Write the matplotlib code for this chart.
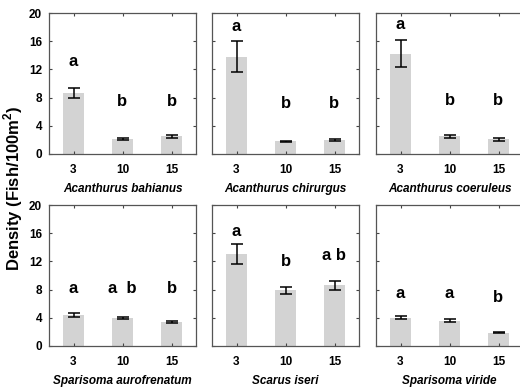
import matplotlib.pyplot as plt

plt.rcParams['font.family'] = ['Liberation Sans', 'DejaVu Sans']
plt.rcParams['font.weight'] = 'bold'
plt.rcParams['mathtext.fontset'] = 'custom'
plt.rcParams['mathtext.rm'] = 'Liberation Sans:bold'
plt.rcParams['mathtext.bf'] = 'Liberation Sans:bold'

depths = ["3", "10", "15"]

species = ["Acanthurus bahianus", "Acanthurus chirurgus", "Acanthurus coeruleus",
           "Sparisoma aurofrenatum", "Scarus iseri", "Sparisoma viride"]

# mean density per depth
means = [
    [8.7, 2.1, 2.5],
    [13.8, 1.8, 2.0],
    [14.2, 2.5, 2.1],
    [4.4, 4.0, 3.4],
    [13.0, 7.9, 8.6],
    [4.0, 3.6, 1.9],
]
# standard errors
errs = [
    [0.7, 0.15, 0.2],
    [2.2, 0.1, 0.15],
    [1.9, 0.25, 0.2],
    [0.3, 0.15, 0.12],
    [1.4, 0.5, 0.65],
    [0.2, 0.2, 0.06],
]
# significance letters and their heights
letters = [
    ["a", "b", "b"],
    ["a", "b", "b"],
    ["a", "b", "b"],
    ["a", "a  b", "b"],
    ["a", "b", "a b"],
    ["a", "a", "b"],
]
letter_y = [
    [13.1, 7.4, 7.4],
    [18.1, 7.2, 7.2],
    [18.3, 7.6, 7.6],
    [8.2, 8.2, 8.2],
    [16.2, 12.0, 12.9],
    [7.4, 7.4, 6.9],
]

fig = plt.figure(figsize=(5.2, 3.87), dpi=100)

W, H = 520, 387
col_left = [49, 212, 376]
row_top = [13, 205]
aw, ah = 147, 141

edge = "#555555"

for i in range(6):
    r, c = divmod(i, 3)
    ax = fig.add_axes([col_left[c] / W, (H - row_top[r] - ah) / H, aw / W, ah / H])
    x = range(3)
    ax.bar(x, means[i], width=0.42, color="#d3d3d3")
    ax.errorbar(x, means[i], yerr=errs[i], fmt="none", ecolor="black",
                elinewidth=1.1, capsize=4.5, capthick=1.1)
    for j in range(3):
        ax.text(j, letter_y[i][j], letters[i][j], ha="center", va="center",
                fontsize=12, fontweight="bold")
    ax.set_xlim(-0.5, 2.5)
    ax.set_ylim(0, 20)
    ax.set_xticks(list(x))
    ax.set_xticklabels(depths)
    ax.set_yticks([0, 4, 8, 12, 16, 20])
    if c == 0:
        ax.set_yticklabels(["0", "4", "8", "12", "16", "20"])
    else:
        ax.set_yticklabels([])
    ax.tick_params(direction="in", length=2.5, width=0.8, color="#444444",
                   top=True, right=True, labelsize=8.5, pad=5)
    ax.tick_params(axis="x", pad=7)
    for s in ax.spines.values():
        s.set_color(edge)
        s.set_linewidth(0.9)
    ax.set_xlabel(species[i], fontsize=8.5, fontweight="bold", style="italic",
                  labelpad=5)

fig.text(13 / W, 1 - 188 / H, r"Density (Fish/100m$^{\mathbf{2}}$)", rotation=90,
         ha="center", va="center", fontsize=12, fontweight="bold")

fig.savefig("out.png", dpi=100)
